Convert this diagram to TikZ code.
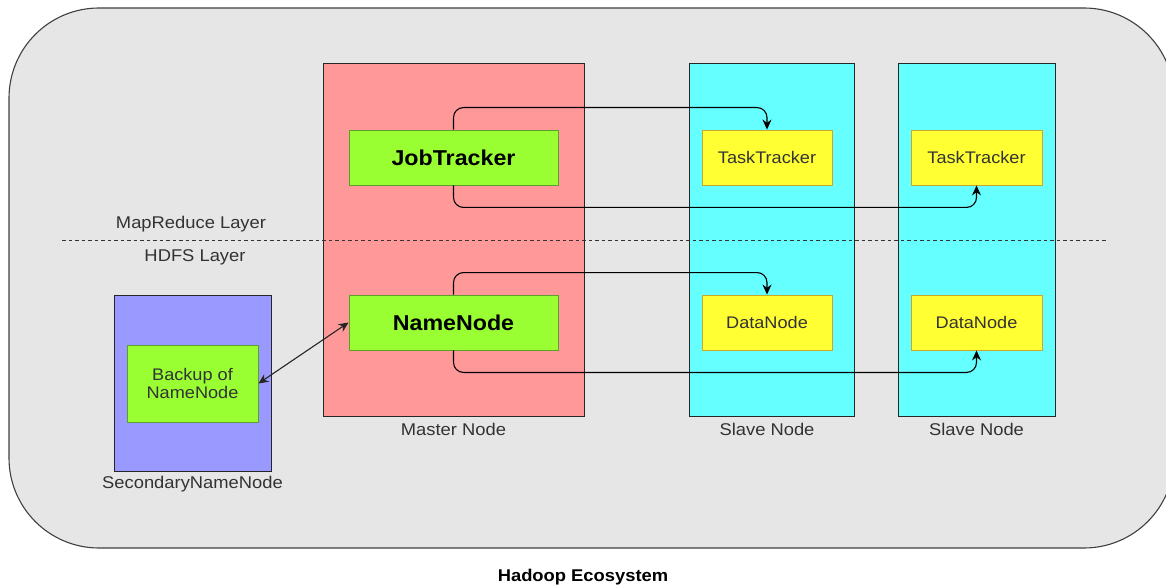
\documentclass[tikz,border=0pt]{standalone}
\usepackage{fontspec}
\setmainfont{Liberation Sans}[FakeStretch=1.08]
\usetikzlibrary{arrows.meta}
\definecolor{outerfill}{HTML}{E6E6E6}
\definecolor{masterfill}{HTML}{FF9999}
\definecolor{slavefill}{HTML}{66FFFF}
\definecolor{greenfill}{HTML}{99FF33}
\definecolor{greenline}{HTML}{5E9E2A}
\definecolor{yellowfill}{HTML}{FFFF33}
\definecolor{yellowline}{HTML}{C9A82A}
\definecolor{purplefill}{HTML}{9999FF}
\definecolor{txtgray}{HTML}{333333}
\tikzset{
  container/.style={draw=black!85, line width=0.9pt, inner sep=0pt},
  greenbox/.style={draw=greenline, fill=greenfill, line width=0.9pt, inner sep=0pt, text=black, align=center},
  yellowbox/.style={draw=yellowline, fill=yellowfill, line width=0.9pt, inner sep=0pt, text=txtgray, font=\fontsize{16.8}{18}\selectfont},
  lbl/.style={text=txtgray, font=\fontsize{17}{18}\selectfont, inner sep=0pt},
  arr/.style={draw=black, line width=1.1pt, rounded corners=10pt, -{Stealth[length=10pt,width=9pt]}},
  biarr/.style={draw=black!85, line width=1.1pt, {Stealth[length=10pt,width=9pt]}-{Stealth[length=10pt,width=9pt]}},
}
\begin{document}
\begin{tikzpicture}[x=1pt,y=-1pt]
\useasboundingbox (0,0) rectangle (1166,585);
\fill[white] (0,0) rectangle (1166,585);
% outer rounded container
\draw[fill=outerfill, draw=black!75, line width=1.1pt, rounded corners=90pt] (9,8) rectangle (1174,548);

% containers
\node[container, fill=masterfill, minimum width=261pt, minimum height=353pt] (master) at (453.5,239.5) {};
\node[container, fill=slavefill, minimum width=165pt, minimum height=353pt] (slave1) at (771.5,239.5) {};
\node[container, fill=slavefill, minimum width=157pt, minimum height=353pt] (slave2) at (976.5,239.5) {};
\node[container, fill=purplefill, minimum width=157pt, minimum height=176pt] (second) at (192.5,383) {};

% dashed layer line
\coordinate (dl) at (62,240);
\coordinate (dr) at (1108,240);
\draw[black!80, line width=0.8pt, dash pattern=on 3.5pt off 3pt] (dl) -- (dr);
\node[lbl] (mrl) at (191,224) {MapReduce Layer};
\node[lbl] (hdl) at (195,257) {HDFS Layer};

% inner boxes
\node[greenbox, minimum width=209pt, minimum height=55pt, font=\bfseries\fontsize{21.5}{24}\selectfont] (jt) at (453.5,157.5) {JobTracker};
\node[greenbox, minimum width=209pt, minimum height=55pt, font=\bfseries\fontsize{21.5}{24}\selectfont] (nn) at (453.5,322.5) {NameNode};
\node[yellowbox, minimum width=130pt, minimum height=55pt] (tt1) at (767,157.5) {TaskTracker};
\node[yellowbox, minimum width=131pt, minimum height=55pt] (tt2) at (976.5,157.5) {TaskTracker};
\node[yellowbox, minimum width=130pt, minimum height=55pt] (dn1) at (767,322.5) {DataNode};
\node[yellowbox, minimum width=131pt, minimum height=55pt] (dn2) at (976.5,322.5) {DataNode};
\node[greenbox, minimum width=131pt, minimum height=77pt, text=txtgray, font=\fontsize{16.8}{17.5}\selectfont] (bk) at (192.5,383.5) {Backup of\\NameNode};

% container labels
\node[lbl] (mlbl) at (453.5,429) {Master Node};
\node[lbl] (s1lbl) at (767,429) {Slave Node};
\node[lbl] (s2lbl) at (976.5,429) {Slave Node};
\node[lbl] (seclbl) at (192.5,484) {SecondaryNameNode};
\node[inner sep=0pt, font=\bfseries\fontsize{17}{18}\selectfont] (title) at (583,577) {Hadoop Ecosystem};

% connectors
\draw[arr] (jt.north) -- ++(0,-22) -| (tt1.north);
\draw[arr] (jt.south) -- ++(0,22) -| (tt2.south);
\draw[arr] (nn.north) -- ++(0,-22) -| (dn1.north);
\draw[arr] (nn.south) -- ++(0,22) -| (dn2.south);
\draw[biarr] (bk.east) -- (nn.west);
\end{tikzpicture}
\end{document}
